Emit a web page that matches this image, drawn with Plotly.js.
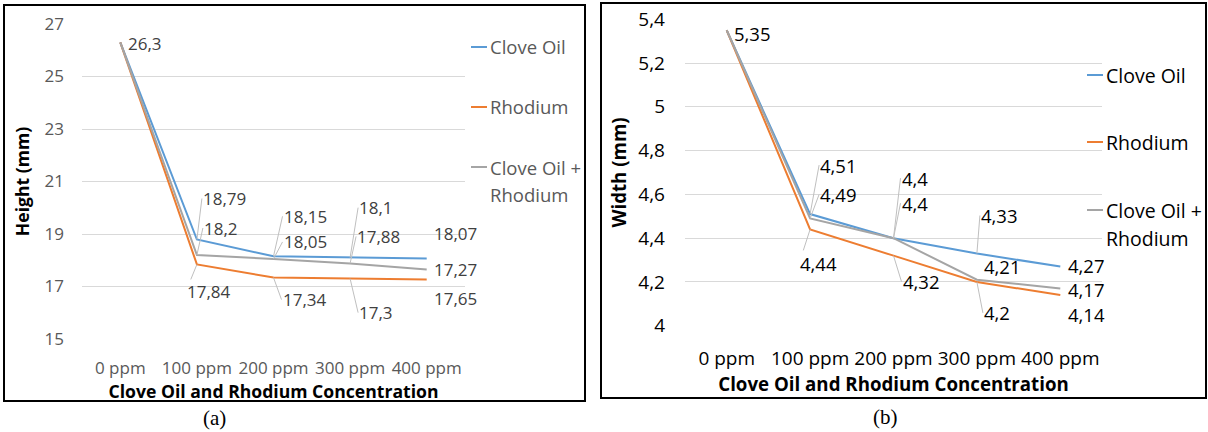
<!DOCTYPE html>
<html><head><meta charset="utf-8">
<script src="https://cdn.plot.ly/plotly-3.0.1.min.js"></script>
<style>html,body{margin:0;padding:0;background:#fff;} #chart{width:1208px;height:432px;}</style>
</head><body><div id="chart"></div>
<script>
// ---------- data ----------
const categories = ['0 ppm', '100 ppm', '200 ppm', '300 ppm', '400 ppm'];
const seriesNames = ['Clove Oil', 'Rhodium', 'Clove Oil + Rhodium'];

// (a) Height (mm)
const heightCloveOil = [26.3, 18.79, 18.15, 18.1, 18.07];
const heightRhodium  = [26.3, 17.84, 17.34, 17.3, 17.27];
const heightCombined = [26.3, 18.2, 18.05, 17.88, 17.65];
// data labels as printed on the chart
const heightLabelsCloveOil = ['26,3', '18,79', '18,15', '18,1', '18,07'];
const heightLabelsRhodium  = ['', '17,84', '17,34', '17,3', '17,65'];
const heightLabelsCombined = ['', '18,2', '18,05', '17,88', '17,27'];
const heightTicks = [15, 17, 19, 21, 23, 25, 27];

// (b) Width (mm)
const widthCloveOil = [5.35, 4.51, 4.4, 4.33, 4.27];
const widthRhodium  = [5.35, 4.44, 4.32, 4.2, 4.14];
const widthCombined = [5.35, 4.49, 4.4, 4.21, 4.17];
const widthLabelsCloveOil = ['5,35', '4,51', '4,4', '4,33', '4,27'];
const widthLabelsRhodium  = ['', '4,44', '4,32', '4,2', '4,14'];
const widthLabelsCombined = ['', '4,49', '4,4', '4,21', '4,17'];
const widthTicks = [4, 4.2, 4.4, 4.6, 4.8, 5, 5.2, 5.4];

// ---------- styling ----------
const colors = ['#5B9BD5', '#ED7D31', '#A5A5A5'];
const W = 1208, H = 432;
const px = x => x / W, py = y => 1 - y / H;
const FONT = 'Open Sans, sans-serif';

// label offsets [dx, dy, leader]
const placeA = [
  [[7, 1, 0], [5, -41, 1], [9, -40, 1], [8, -50, 1], [6, -25, 0]],
  [null, [-11, 27, 1], [8, 22, 1], [8, 34, 1], [6, 19, 0]],
  [null, [6, -27, 1], [9, -17, 1], [6, -27, 1], [6, 0, 0]]
];
const placeB = [
  [[6, 3, 0], [9, -49, 1], [7, -60, 1], [3, -38, 1], [7, -1, 0]],
  [null, [-11, 34, 1], [8, 26, 1], [6, 31, 1], [7, 19, 0]],
  [null, [9, -24, 1], [7, -35, 1], [6, -13, 0], [7, 1, 0]]
];

const seriesA = [heightCloveOil, heightRhodium, heightCombined];
const labelsA = [heightLabelsCloveOil, heightLabelsRhodium, heightLabelsCombined];
const seriesB = [widthCloveOil, widthRhodium, widthCombined];
const labelsB = [widthLabelsCloveOil, widthLabelsRhodium, widthLabelsCombined];

const traces = [];
seriesA.forEach((s, i) => traces.push({
  type: 'scatter', mode: 'lines', x: categories, y: s, name: seriesNames[i],
  xaxis: 'x', yaxis: 'y', line: {color: colors[i], width: 2}, showlegend: false, hoverinfo: 'skip'
}));
seriesB.forEach((s, i) => traces.push({
  type: 'scatter', mode: 'lines', x: categories, y: s, name: seriesNames[i],
  xaxis: 'x2', yaxis: 'y2', line: {color: colors[i], width: 2}, showlegend: false, hoverinfo: 'skip'
}));

const annotations = [];
function addLabels(series, labels, place, xr, yr, fsize, fcolor) {
  series.forEach((s, i) => {
    s.forEach((v, j) => {
      const p = place[i][j];
      if (!labels[i][j] || !p) return;
      annotations.push({
        xref: xr, yref: yr, x: categories[j], y: v, text: labels[i][j],
        showarrow: true, ax: p[0], ay: p[1], axref: 'pixel', ayref: 'pixel',
        xanchor: 'left', yanchor: 'middle', arrowhead: 0, arrowwidth: 1, standoff: 0, borderpad: 0,
        arrowcolor: p[2] ? '#BFBFBF' : 'rgba(0,0,0,0)',
        font: {family: FONT, size: fsize, color: fcolor}
      });
    });
  });
}
addLabels(seriesA, labelsA, placeA, 'x', 'y', 17, '#404040');
addLabels(seriesB, labelsB, placeB, 'x2', 'y2', 18.5, '#000000');

const shapes = [
  {type: 'rect', xref: 'paper', yref: 'paper', x0: px(4), x1: px(585), y0: py(5), y1: py(401), line: {color: '#000', width: 2}},
  {type: 'rect', xref: 'paper', yref: 'paper', x0: px(601), x1: px(1206), y0: py(3), y1: py(398), line: {color: '#000', width: 2}}
];

// manual legends
function addLegend(x0, ys, y2, fsize, fcolor) {
  const names = ['Clove Oil', 'Rhodium', 'Clove Oil +'];
  names.forEach((n, i) => {
    shapes.push({type: 'line', xref: 'paper', yref: 'paper', x0: px(x0), x1: px(x0 + 16), y0: py(ys[i]), y1: py(ys[i]), line: {color: colors[i], width: 2}});
    annotations.push({xref: 'paper', yref: 'paper', x: px(x0 + 17), y: py(ys[i]), text: n, showarrow: false,
      xanchor: 'left', yanchor: 'middle', font: {family: FONT, size: fsize, color: fcolor}});
  });
  annotations.push({xref: 'paper', yref: 'paper', x: px(x0 + 17), y: py(y2), text: 'Rhodium', showarrow: false,
    xanchor: 'left', yanchor: 'middle', font: {family: FONT, size: fsize, color: fcolor}});
}
addLegend(471, [47, 107, 167], 195, 18.5, '#595959');
addLegend(1087, [75, 142, 210], 238, 19.5, '#000000');

// captions
annotations.push({xref: 'paper', yref: 'paper', x: px(214), y: py(418), text: '(a)', showarrow: false,
  xanchor: 'center', yanchor: 'middle', font: {family: 'Liberation Serif, serif', size: 21, color: '#000'}});
annotations.push({xref: 'paper', yref: 'paper', x: px(885), y: py(417), text: '(b)', showarrow: false,
  xanchor: 'center', yanchor: 'middle', font: {family: 'Liberation Serif, serif', size: 21, color: '#000'}});

const layout = {
  width: W, height: H, margin: {l: 0, r: 0, t: 0, b: 0},
  paper_bgcolor: '#fff', plot_bgcolor: '#fff',
  separators: ', ', font: {family: FONT},
  showlegend: false, hovermode: false,
  xaxis: {
    domain: [px(82), px(465)], anchor: 'y', type: 'category', range: [-0.5, 4.5],
    showgrid: false, zeroline: false, showline: false, ticks: '', ticklabelstandoff: 17,
    tickfont: {family: FONT, size: 17, color: '#595959'},
    title: {text: '<b>Clove Oil and Rhodium Concentration</b>', standoff: 2, font: {family: FONT, size: 17.6, color: '#000'}}
  },
  yaxis: {
    domain: [py(339), py(24)], anchor: 'x', range: [15, 27], tickvals: heightTicks,
    showgrid: true, gridcolor: '#D9D9D9', gridwidth: 1, zeroline: false, showline: false, ticks: '',
    ticklabelstandoff: 17, tickfont: {family: FONT, size: 17, color: '#595959'},
    title: {text: '<b>Height (mm)</b>', standoff: 10, font: {family: FONT, size: 17.6, color: '#000'}}
  },
  xaxis2: {
    domain: [px(685), px(1102)], anchor: 'y2', type: 'category', range: [-0.5, 4.5],
    showgrid: false, zeroline: false, showline: false, ticks: '', ticklabelstandoff: 19,
    tickfont: {family: FONT, size: 19, color: '#000'},
    title: {text: '<b>Clove Oil and Rhodium Concentration</b>', standoff: 5, font: {family: FONT, size: 18.7, color: '#000'}}
  },
  yaxis2: {
    domain: [py(325.7), py(19.3)], anchor: 'x2', range: [4, 5.4], tickvals: widthTicks,
    showgrid: true, gridcolor: '#D9D9D9', gridwidth: 1, zeroline: false, showline: false, ticks: '',
    ticklabelstandoff: 19, tickfont: {family: FONT, size: 19, color: '#000'},
    title: {text: '<b>Width (mm)</b>', standoff: 6, font: {family: FONT, size: 18.7, color: '#000'}}
  },
  shapes: shapes,
  annotations: annotations
};

Plotly.newPlot('chart', traces, layout, {staticPlot: true, displayModeBar: false});
</script></body></html>
